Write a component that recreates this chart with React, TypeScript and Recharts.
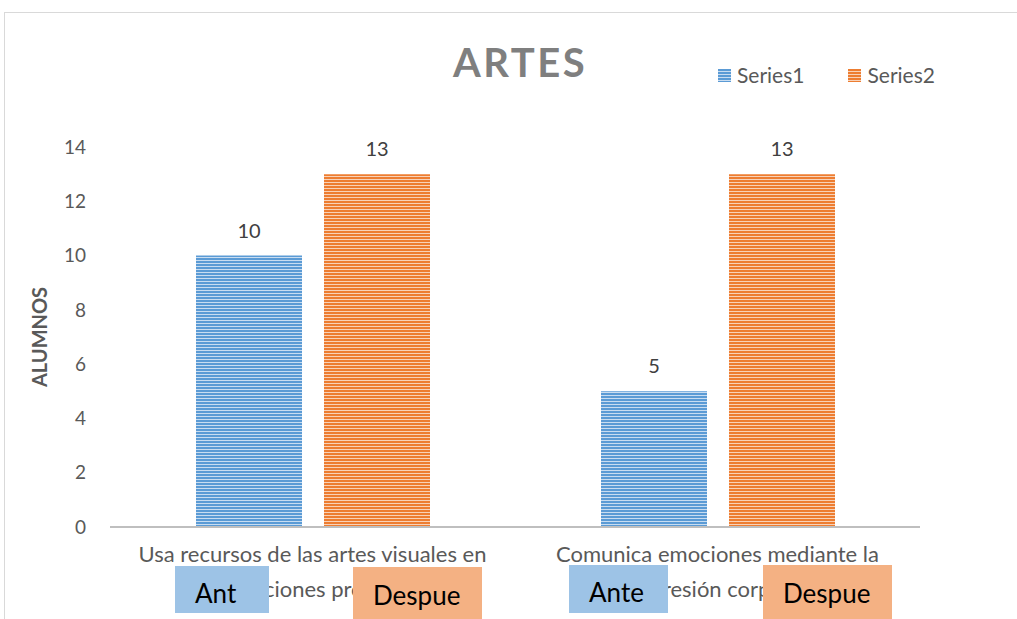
import React from "react";
import { BarChart, Bar, XAxis, YAxis, LabelList, Legend } from "recharts";

const categories = [
  "Usa recursos de las artes visuales en creaciones propias",
  "Comunica emociones mediante la expresión corporal",
];
const categoryLines: string[][] = [
  ["Usa recursos de las artes visuales en", "creaciones propias"],
  ["Comunica emociones mediante la", "expresión corporal"],
];
const series1 = [10, 5];
const series2 = [13, 13];
const yTicks = [0, 2, 4, 6, 8, 10, 12, 14];
const seriesNames = ["Series1", "Series2"];
const title = "ARTES";
const yLabel = "ALUMNOS";
const boxLabels = ["Ant", "Despue", "Ante", "Despue"];

const data = categories.map((c, i) => ({
  name: c,
  s1: series1[i],
  s2: series2[i],
}));

const FONT = "Lato, 'Open Sans', sans-serif";
const BLUE = "#5B9BD5";
const ORANGE = "#ED7D31";

const XTick = (props: any) => {
  const { x, y, payload } = props;
  const i = categories.indexOf(payload.value);
  const lines = categoryLines[i] || [payload.value];
  return (
    <g>
      {lines.map((l, k) => (
        <text
          key={k}
          x={x}
          y={y + 35 + k * 35}
          textAnchor="middle"
          fill="#595959"
          fontSize={22}
          fontFamily={FONT}
        >
          {l}
        </text>
      ))}
    </g>
  );
};

const LegendContent = () => (
  <div style={{ display: "flex", fontFamily: FONT, fontSize: 21, color: "#595959", lineHeight: "24px" }}>
    {seriesNames.map((n, i) => (
      <div key={n} style={{ display: "flex", alignItems: "center", marginRight: i === 0 ? 44 : 0 }}>
        <svg width={13} height={13} style={{ marginRight: 6 }}>
          <rect width={13} height={13} fill={i === 0 ? "url(#blueStripes)" : "url(#orangeStripes)"} />
        </svg>
        <span>{n}</span>
      </div>
    ))}
  </div>
);

const boxStyles: React.CSSProperties[] = [
  { left: 175, top: 566, width: 94, height: 47, background: "#9DC3E6" },
  { left: 353, top: 567, width: 129, height: 52, background: "#F4B183" },
  { left: 569, top: 565, width: 99, height: 48, background: "#9DC3E6" },
  { left: 763, top: 565, width: 129, height: 54, background: "#F4B183" },
];
const boxTextTop = [14, 15, 14, 15];

export default function App() {
  return (
    <div style={{ position: "absolute", left: 0, top: 0, width: 1017, height: 619, overflow: "hidden", background: "#fff" }}>
      <div
        style={{
          position: "absolute",
          left: 4,
          top: 12,
          width: 1040,
          height: 640,
          border: "1px solid #D9D9D9",
          boxSizing: "border-box",
        }}
      />
      <div
        style={{
          position: "absolute",
          left: 0,
          width: 1040,
          top: 38,
          textAlign: "center",
          fontFamily: FONT,
          fontWeight: 700,
          fontSize: 40,
          lineHeight: "48px",
          letterSpacing: 2.5,
          color: "#7F7F7F",
        }}
      >
        {title}
      </div>
      <div style={{ position: "absolute", left: 0, top: 0 }}>
        <BarChart
          width={1017}
          height={619}
          data={data}
          margin={{ top: 147, right: 97, bottom: 32, left: 50 }}
          barGap={22}
        >
          <defs>
            <pattern id="blueStripes" width="4" height="3" patternUnits="userSpaceOnUse">
              <rect width="4" height="3" fill="#C9DDF1" />
              <rect width="4" height="2" fill={BLUE} />
            </pattern>
            <pattern id="orangeStripes" width="4" height="3" patternUnits="userSpaceOnUse">
              <rect width="4" height="3" fill="#F8D2B8" />
              <rect width="4" height="2" fill={ORANGE} />
            </pattern>
          </defs>
          <XAxis
            dataKey="name"
            axisLine={{ stroke: "#BFBFBF", strokeWidth: 2 }}
            tickLine={false}
            tickSize={0}
            tickMargin={0}
            height={60}
            interval={0}
            tick={<XTick />}
          />
          <YAxis
            domain={[0, 14]}
            ticks={yTicks}
            width={60}
            axisLine={false}
            tickLine={false}
            tickSize={0}
            tickMargin={24}
            tick={{ fill: "#595959", fontSize: 19, fontFamily: FONT }}
            label={{
              value: yLabel,
              angle: -90,
              position: "insideLeft",
              dx: -15,
              dy: 0,
              style: { fill: "#595959", fontSize: 20, fontWeight: 700, fontFamily: FONT, textAnchor: "middle" },
            }}
          />
          <Legend
            layout="horizontal"
            verticalAlign="middle"
            align="center"
            content={<LegendContent />}
            wrapperStyle={{ position: "absolute", left: 718, top: 63, width: 280 }}
          />
          <Bar dataKey="s1" name={seriesNames[0]} fill="url(#blueStripes)" barSize={106} isAnimationActive={false}>
            <LabelList dataKey="s1" position="top" offset={18} fill="#404040" fontSize={20} fontFamily={FONT} />
          </Bar>
          <Bar dataKey="s2" name={seriesNames[1]} fill="url(#orangeStripes)" barSize={106} isAnimationActive={false}>
            <LabelList dataKey="s2" position="top" offset={18} fill="#404040" fontSize={20} fontFamily={FONT} />
          </Bar>
        </BarChart>
      </div>
      {boxLabels.map((t, i) => (
        <div
          key={i}
          style={{
            position: "absolute",
            ...boxStyles[i],
          }}
        >
          <div
            style={{
              position: "absolute",
              left: 20,
              top: boxTextTop[i],
              fontFamily: FONT,
              fontSize: 26,
              lineHeight: "26px",
              color: "#000",
            }}
          >
            {t}
          </div>
        </div>
      ))}
    </div>
  );
}
